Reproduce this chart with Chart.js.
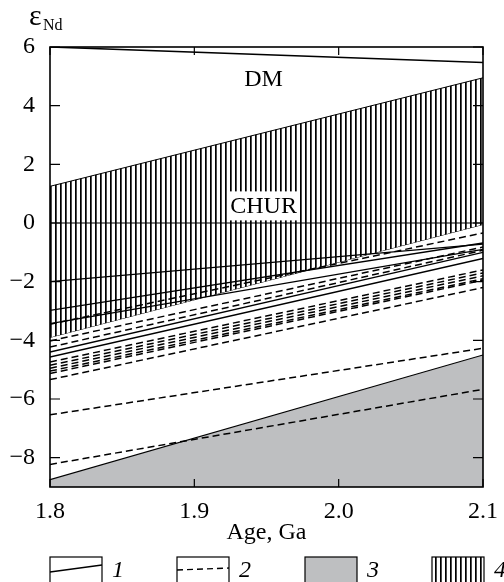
<!DOCTYPE html>
<html>
<head>
<meta charset="utf-8">
<script src="https://cdn.jsdelivr.net/npm/chart.js@4.4.0/dist/chart.umd.min.js"></script>
<style>
  body { margin: 0; background: #fff; }
  canvas { display: block; }
</style>
</head>
<body>
<canvas id="chart" width="504" height="582"></canvas>
<script>
// ages at the two ends of every line (Ga)
const ages = [1.8, 2.1];
const xTicks = [1.8, 1.9, 2.0, 2.1];
const yTicks = [-8, -6, -4, -2, 0, 2, 4, 6];

const dmLine = [6.0, 5.47];
const churLine = [0, 0];
const hatchTop = [1.25, 4.95];
const hatchBottom = [-3.9, -0.05];
const greyTop = [-8.75, -4.5];

// type 1 (solid) and type 2 (dashed) sample lines, value at 1.8 and at 2.1 Ga
const solidStart = [-2.0, -2.98, -3.43, -4.4, -4.57];
const solidEnd = [-0.72, -0.68, -0.9, -1.0, -1.21];
const dashedStart = [-3.45, -4.02, -4.23, -4.74, -4.85, -4.95, -5.05, -5.13, -5.34, -6.54, -8.23];
const dashedEnd = [-0.34, -0.82, -0.93, -1.6, -1.7, -1.8, -1.9, -1.95, -2.2, -4.27, -5.67];

const legendLabels = ['1', '2', '3', '4'];

const serif = '"Liberation Serif", "DejaVu Serif", serif';
const grey = '#bebfc1';

function pts(ends) {
    return ages.map((a, i) => ({ x: a, y: ends[i] }));
}

function makeHatch() {
    const c = document.createElement('canvas');
    c.width = 5;
    c.height = 10;
    const g = c.getContext('2d');
    g.fillStyle = '#fff';
    g.fillRect(0, 0, 5, 10);
    g.fillStyle = '#000';
    g.fillRect(0, 0, 1.7, 10);
    return g.createPattern(c, 'repeat');
}
const hatch = makeHatch();

const datasets = [];
datasets.push({ data: pts(dmLine), borderColor: '#000', borderWidth: 1.6, order: 1 });
datasets.push({ data: pts(churLine), borderColor: '#000', borderWidth: 1.2, order: 1 });
solidStart.forEach((s, i) => {
    datasets.push({ data: pts([s, solidEnd[i]]), borderColor: '#000', borderWidth: 1.4, order: 1 });
});
dashedStart.forEach((s, i) => {
    datasets.push({ data: pts([s, dashedEnd[i]]), borderColor: '#000', borderWidth: 1.5, borderDash: [7, 4], order: 1 });
});
datasets.push({ data: pts(hatchTop), borderColor: '#000', borderWidth: 1, fill: '+1', backgroundColor: hatch, order: 5 });
datasets.push({ data: pts(hatchBottom), borderColor: '#000', borderWidth: 1, order: 5 });
datasets.push({ data: pts(greyTop), borderColor: '#000', borderWidth: 1.2, fill: 'start', backgroundColor: grey, order: 6 });

const decor = {
    id: 'decor',
    afterDatasetsDraw(chart) {
        const ctx = chart.ctx;
        const xs = chart.scales.x, ys = chart.scales.y;
        ctx.save();
        ctx.font = '24px ' + serif;
        ctx.textAlign = 'center';
        ctx.textBaseline = 'middle';
        // CHUR label on white
        const cx = xs.getPixelForValue(1.948), cy = ys.getPixelForValue(0.6);
        const w = ctx.measureText('CHUR').width + 6;
        ctx.fillStyle = '#fff';
        ctx.fillRect(cx - w / 2, cy - 14, w, 29);
        ctx.fillStyle = '#000';
        ctx.fillText('CHUR', cx, cy + 1);
        // DM label
        ctx.fillText('DM', xs.getPixelForValue(1.948), ys.getPixelForValue(4.9));
        ctx.restore();
    },
    afterDraw(chart) {
        const ctx = chart.ctx;
        const a = chart.chartArea;
        const xs = chart.scales.x, ys = chart.scales.y;
        ctx.save();
        ctx.strokeStyle = '#000';
        ctx.lineWidth = 1.6;
        ctx.strokeRect(a.left, a.top, a.right - a.left, a.bottom - a.top);
        // inward tick marks
        ctx.lineWidth = 1.2;
        ctx.beginPath();
        xTicks.forEach(v => {
            const px = xs.getPixelForValue(v);
            ctx.moveTo(px, a.bottom); ctx.lineTo(px, a.bottom - 8);
            ctx.moveTo(px, a.top); ctx.lineTo(px, a.top + 8);
        });
        yTicks.forEach(v => {
            const py = ys.getPixelForValue(v);
            ctx.moveTo(a.left, py); ctx.lineTo(a.left + 10, py);
            ctx.moveTo(a.right, py); ctx.lineTo(a.right - 10, py);
        });
        ctx.stroke();

        // axis titles
        ctx.fillStyle = '#000';
        ctx.textBaseline = 'alphabetic';
        ctx.textAlign = 'center';
        ctx.font = '24px ' + serif;
        ctx.fillText('Age, Ga', (a.left + a.right) / 2, 539);
        ctx.textAlign = 'left';
        ctx.font = '30px ' + serif;
        ctx.fillText('ε', 29, 25);
        ctx.font = '16px ' + serif;
        ctx.fillText('Nd', 43, 30);

        // legend
        const boxW = 52, boxTop = 557, boxBottom = 600;
        const starts = [50, 177, 305, 432];
        starts.forEach((bx, i) => {
            if (i === 2) {
                ctx.fillStyle = grey;
                ctx.fillRect(bx, boxTop, boxW, boxBottom - boxTop);
            } else if (i === 3) {
                ctx.fillStyle = hatch;
                ctx.fillRect(bx, boxTop, boxW, boxBottom - boxTop);
            }
            ctx.lineWidth = 1.2;
            ctx.setLineDash([]);
            ctx.strokeRect(bx, boxTop, boxW, boxBottom - boxTop);
            ctx.beginPath();
            if (i === 0) {
                ctx.lineWidth = 1.4;
                ctx.moveTo(bx, 572); ctx.lineTo(bx + boxW, 565);
                ctx.stroke();
            } else if (i === 1) {
                ctx.lineWidth = 1.4;
                ctx.setLineDash([6, 4]);
                ctx.moveTo(bx, 570); ctx.lineTo(bx + boxW, 568);
                ctx.stroke();
                ctx.setLineDash([]);
            }
            ctx.fillStyle = '#000';
            ctx.font = 'italic 24px ' + serif;
            ctx.textBaseline = 'middle';
            ctx.fillText(legendLabels[i], bx + boxW + 10, 571);
        });
        ctx.restore();
    }
};

new Chart(document.getElementById('chart'), {
    type: 'line',
    data: { datasets: datasets },
    options: {
        responsive: false,
        animation: false,
        devicePixelRatio: 1,
        layout: { padding: { top: 47, right: 21, left: 0, bottom: 0 } },
        elements: { point: { radius: 0 }, line: { tension: 0 } },
        plugins: { legend: { display: false }, tooltip: { enabled: false } },
        scales: {
            x: {
                type: 'linear',
                min: 1.8,
                max: 2.1,
                afterBuildTicks: s => { s.ticks = xTicks.map(v => ({ value: v })); },
                afterFit: s => { s.height = 95; },
                grid: { display: false },
                border: { display: false },
                ticks: {
                    color: '#000',
                    padding: 2,
                    maxRotation: 0,
                    autoSkip: false,
                    font: { family: serif, size: 24 },
                    callback: v => v.toFixed(1)
                }
            },
            y: {
                min: -9,
                max: 6,
                afterBuildTicks: s => { s.ticks = yTicks.map(v => ({ value: v })); },
                afterFit: s => { s.width = 50; },
                grid: { display: false },
                border: { display: false },
                ticks: {
                    color: '#000',
                    padding: 7,
                    font: { family: serif, size: 24 },
                    callback: v => (v < 0 ? '\u2212' + Math.abs(v) : String(v))
                }
            }
        }
    },
    plugins: [decor]
});
</script>
</body>
</html>
